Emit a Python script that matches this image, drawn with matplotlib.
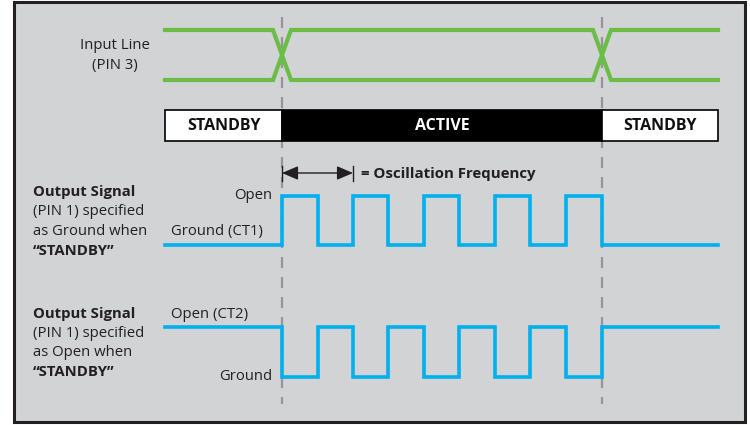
import matplotlib
matplotlib.use("Agg")
import matplotlib.pyplot as plt
from matplotlib.patches import Rectangle

plt.rcParams['font.family'] = ['Open Sans', 'DejaVu Sans']

# ---- data (timing diagram, x in diagram units) ----
x_begin = 165
x_end = 718
transitions = [282, 602]                      # STANDBY -> ACTIVE -> STANDBY
ramp = 9                                      # half-width of input crossover
state_names = ["STANDBY", "ACTIVE", "STANDBY"]
state_faces = ["white", "black", "white"]
state_text = ["#111111", "white", "#111111"]
pulse_edges = [282, 318, 353, 388, 424, 459, 495, 530, 566, 602]
osc_arrow = [282, 353]

# levels (y, inverted axis)
input_hi, input_lo = 30, 80
out1_hi, out1_lo = 196, 245
out2_hi, out2_lo = 327, 377

GREEN = "#6cbd45"
BLUE = "#00b0ef"
BG = "#d1d3d4"
DASH = "#939598"
DARK = "#231f20"

fig = plt.figure(figsize=(7.5, 4.25), dpi=100)
ax = fig.add_axes([0, 0, 1, 1])
ax.set_xlim(0, 750)
ax.set_ylim(425, 0)
ax.axis("off")

ax.add_patch(Rectangle((13.5, 2), 731.5, 420, facecolor=BG, edgecolor=DARK, lw=2.2, zorder=0))

# dashed transition lines
for t in transitions:
    ax.plot([t, t], [17, 404], color=DASH, lw=1.6, ls=(0, (5, 4)), zorder=1)

# input lines (crossovers)
t1, t2 = transitions
xs = [x_begin, t1 - ramp, t1 + ramp, t2 - ramp, t2 + ramp, x_end]
ax.plot(xs, [input_hi, input_hi, input_lo, input_lo, input_hi, input_hi], color=GREEN, lw=3, solid_joinstyle='miter', zorder=2)
ax.plot(xs, [input_lo, input_lo, input_hi, input_hi, input_lo, input_lo], color=GREEN, lw=3, solid_joinstyle='miter', zorder=2)

# state bar
bounds = [x_begin] + transitions + [x_end]
for i, name in enumerate(state_names):
    ax.add_patch(Rectangle((bounds[i], 110), bounds[i + 1] - bounds[i], 31,
                           facecolor=state_faces[i], edgecolor="black", lw=1.2, zorder=3))
    ax.text((bounds[i] + bounds[i + 1]) / 2, 126, name, ha="center", va="center",
            fontsize=11.5, fontweight="bold", color=state_text[i], zorder=4)

def square(edges, start_level, other_level):
    xs = [x_begin]
    ys = [start_level]
    level = start_level
    for e in edges:
        xs += [e, e]
        nxt = other_level if level == start_level else start_level
        ys += [level, nxt]
        level = nxt
    xs.append(x_end)
    ys.append(level)
    return xs, ys

x1, y1 = square(pulse_edges, out1_lo, out1_hi)
ax.plot(x1, y1, color=BLUE, lw=2.6, solid_joinstyle='miter', zorder=2)
x2, y2 = square(pulse_edges, out2_hi, out2_lo)
ax.plot(x2, y2, color=BLUE, lw=2.6, solid_joinstyle='miter', zorder=2)

# oscillation arrow
ax.annotate("", xy=(osc_arrow[1], 173), xytext=(osc_arrow[0], 173),
            arrowprops=dict(arrowstyle="<|-|>,head_length=0.7,head_width=0.3", color=DARK, lw=1.0,
                            mutation_scale=14, shrinkA=0, shrinkB=0))
for xa in osc_arrow:
    ax.plot([xa, xa], [166, 181], color=DARK, lw=1.0)
ax.text(361, 174, "= Oscillation Frequency", ha="left", va="center", fontsize=10.8,
        fontweight="bold", color=DARK)

# labels
fs = 10.7
ax.text(115, 45, "Input Line", ha="center", va="center", fontsize=fs, color=DARK)
ax.text(115, 65, "(PIN 3)", ha="center", va="center", fontsize=fs, color=DARK)

for base, tail in [(192, "Ground"), (314, "Open")]:
    ax.text(33, base, "Output Signal", ha="left", va="center", fontsize=fs, fontweight="bold", color=DARK)
    ax.text(33, base + 19.5, "(PIN 1) specified", ha="left", va="center", fontsize=fs, color=DARK)
    ax.text(33, base + 39, f"as {tail} when", ha="left", va="center", fontsize=fs, color=DARK)
    ax.text(33, base + 58.5, "\u201cSTANDBY\u201d", ha="left", va="center", fontsize=fs, fontweight="bold", color=DARK)

ax.text(272, 195, "Open", ha="right", va="center", fontsize=fs, color=DARK)
ax.text(171, 231, "Ground (CT1)", ha="left", va="center", fontsize=fs, color=DARK)
ax.text(171, 314, "Open (CT2)", ha="left", va="center", fontsize=fs, color=DARK)
ax.text(272, 376, "Ground", ha="right", va="center", fontsize=fs, color=DARK)

fig.savefig("out.png", dpi=100, facecolor="white")
